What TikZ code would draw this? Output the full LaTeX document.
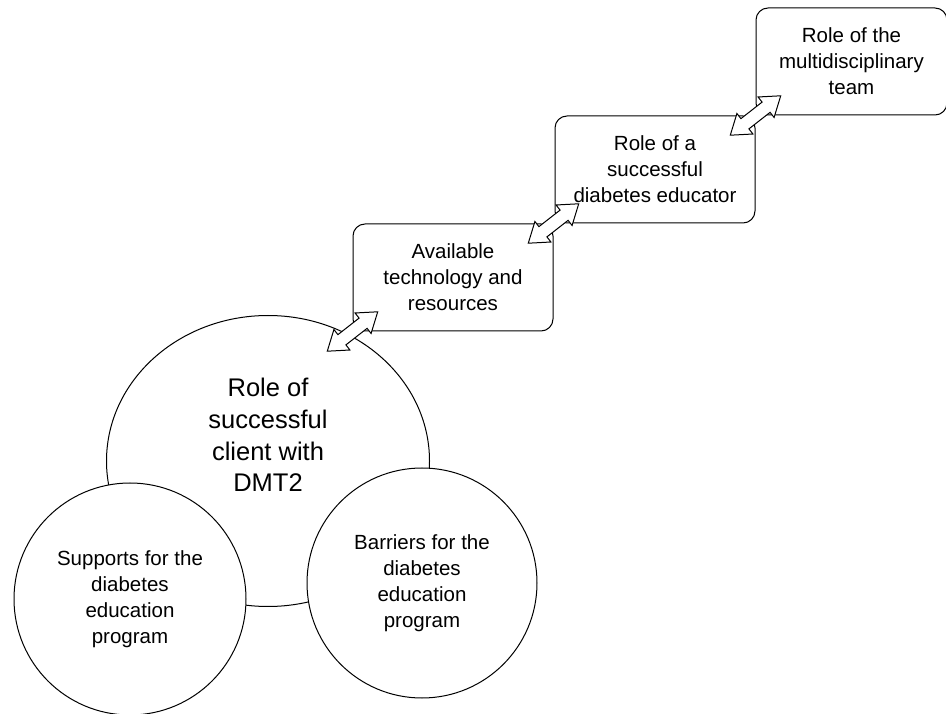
\documentclass[tikz,border=0pt]{standalone}
\usepackage{fontspec}
\setmainfont{Liberation Sans}
\usetikzlibrary{positioning,shapes.geometric,shapes.arrows}

\begin{document}
\begin{tikzpicture}[x=1pt,y=1pt,line width=1pt,
    box node/.style={rectangle,draw,rounded corners=12pt,minimum width=200pt,minimum height=107pt,inner sep=0pt,align=center,font=\fontsize{20.5}{26}\selectfont},
    round node/.style={circle,draw,fill=white,minimum size=232pt,inner sep=0pt,align=center,font=\fontsize{20.5}{26}\selectfont},
    link node/.style={double arrow,draw,fill=white,rotate=38,minimum height=64pt,minimum width=25pt,double arrow head extend=6.5pt,double arrow tip angle=70,inner sep=6pt}]
            \useasboundingbox (0,0) rectangle (946,713);

            \node[box node] (1) at (453,435.5) {Available\\technology and\\resources};
            \node[box node] (2) [above right=0pt and 1pt of 1] {Role of a\\successful\\diabetes educator};
            \node[box node, minimum width=191pt] (3) [above right=0pt and 0pt of 2] {Role of the\\multidisciplinary\\team};

            \node[ellipse,draw,minimum width=323pt,minimum height=291pt] (4) at (268,252) {};
            \node[align=center,font=\fontsize{25.5}{31.7}\selectfont] (5) at (268,278) {Role of\\successful\\client with\\DMT2};

            \node[round node] (6) at (130,114) {Supports for the\\diabetes\\education\\program};
            \node[round node, minimum size=230pt] (7) at (422,130) {Barriers for the\\diabetes\\education\\program};

            \node[link node] (8) at (1.south west) {};
            \node[link node] (9) at (1.north east) {};
            \node[link node] (10) at (2.north east) {};
\end{tikzpicture}
\end{document}
